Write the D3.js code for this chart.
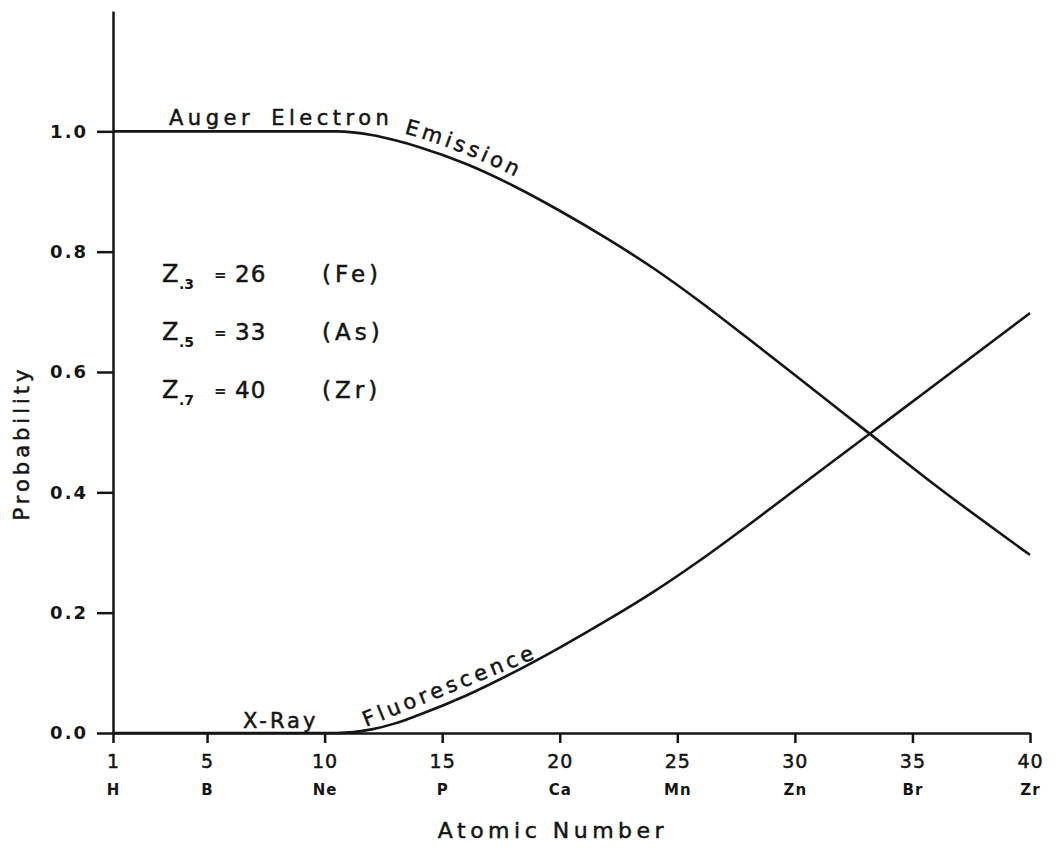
<!DOCTYPE html>
<html>
<head>
<meta charset="utf-8" />
<title>Auger Electron Emission vs X-Ray Fluorescence</title>
<script src="https://d3js.org/d3.v7.min.js"></script>
<style>
  body { margin: 0; background: #fff; }
  svg text { font-family: "DejaVu Sans", sans-serif; fill: #151515; }
  .lbl { stroke: #151515; stroke-width: 0.5px; }
</style>
</head>
<body>
<svg width="1058" height="852" id="svg1"></svg>
<script>
// values
var atomicNumber = [1, 5, 10, 10.5, 12, 13, 14, 16, 18, 20, 22, 24, 26, 28, 30, 33, 36, 40];
var augerProb    = [1, 1, 1, 1, 0.994, 0.985, 0.974, 0.946, 0.91, 0.868, 0.822, 0.772, 0.716, 0.656, 0.595, 0.503, 0.411, 0.296];
var xrayProb     = [0, 0, 0, 0, 0.006, 0.016, 0.03, 0.062, 0.1, 0.142, 0.187, 0.235, 0.288, 0.345, 0.404, 0.492, 0.58, 0.698];

var xTicks = [1, 5, 10, 15, 20, 25, 30, 35, 40];
var xElements = ["H", "B", "Ne", "P", "Ca", "Mn", "Zn", "Br", "Zr"];
var yTicks = [0, 0.2, 0.4, 0.6, 0.8, 1.0];

var legendSub = [".3", ".5", ".7"];
var legendZ = [26, 33, 40];
var legendEl = ["Fe", "As", "Zr"];

var svg = d3.select("#svg1");
var ink = "#151515";

var x = d3.scaleLinear().domain([1, 40]).range([113, 1030]);
var y = d3.scaleLinear().domain([0, 1.2]).range([733, 11]);

// axes
var yAxis = svg.append("g")
  .attr("transform", "translate(" + x(1) + ",0)")
  .call(d3.axisLeft(y).tickValues(yTicks).tickSize(16).tickSizeOuter(0).tickPadding(9)
        .tickFormat(d3.format(".1f")));
yAxis.selectAll("text").style("font-size", "18px").style("font-weight", "bold").attr("letter-spacing", 2);

var xAxis = svg.append("g")
  .attr("transform", "translate(0," + y(0) + ")")
  .call(d3.axisBottom(x).tickValues(xTicks).tickSize(10).tickSizeOuter(0).tickPadding(12));
xAxis.selectAll("text").style("font-size", "19px").attr("letter-spacing", 1).attr("class", "lbl");
xAxis.selectAll(".tick").append("text")
  .attr("y", 62).attr("fill", ink)
  .style("font-size", "15px").style("font-weight", "bold").attr("letter-spacing", 1)
  .text(function(d, i) { return xElements[i]; });

svg.selectAll(".domain, .tick line").attr("stroke", ink).attr("stroke-width", 2.5);
svg.selectAll(".tick text").attr("fill", ink);

// axis titles
svg.append("text").attr("class", "lbl")
  .attr("x", 553).attr("y", 838).attr("text-anchor", "middle")
  .style("font-size", "22px").attr("letter-spacing", 4.5)
  .text("Atomic Number");
svg.append("text").attr("class", "lbl")
  .attr("transform", "translate(29,443) rotate(-90)").attr("text-anchor", "middle")
  .style("font-size", "21px").attr("letter-spacing", 4)
  .text("Probability");

// curves
var line = d3.line().curve(d3.curveMonotoneX);
var augerPts = atomicNumber.map(function(z, i) { return [x(z), y(augerProb[i])]; });
var xrayPts = atomicNumber.map(function(z, i) { return [x(z), y(xrayProb[i])]; });

svg.append("path").attr("id", "auger").attr("d", line(augerPts))
  .attr("fill", "none").attr("stroke", ink).attr("stroke-width", 2.6);
svg.append("path").attr("id", "xray").attr("d", line(xrayPts))
  .attr("fill", "none").attr("stroke", ink).attr("stroke-width", 2.6);

// where along a path a given x is reached
function offsetAt(id, px) {
  var node = document.getElementById(id);
  var total = node.getTotalLength();
  for (var l = 0; l < total; l += 0.5) {
    if (node.getPointAtLength(l).x >= px) return l;
  }
  return total;
}

// curve labels
svg.append("text").attr("class", "lbl")
  .attr("x", 169).attr("y", 125)
  .style("font-size", "21px").attr("letter-spacing", 4.5).attr("word-spacing", 6)
  .text("Auger Electron");
svg.append("text").attr("class", "lbl")
  .attr("dy", -9)
  .style("font-size", "21px").attr("letter-spacing", 3.5)
  .append("textPath").attr("href", "#auger")
  .attr("startOffset", offsetAt("auger", 401))
  .text("Emission");

svg.append("text").attr("class", "lbl")
  .attr("x", 243).attr("y", 728)
  .style("font-size", "21px").attr("letter-spacing", 3)
  .text("X-Ray");
svg.append("text").attr("class", "lbl")
  .attr("transform", "translate(366,727) rotate(-22)")
  .style("font-size", "21px").attr("letter-spacing", 4)
  .text("Fluorescence");

// Z values where the fluorescence yield reaches .3 / .5 / .7
var leg = svg.append("g").selectAll("g")
  .data(legendZ).enter().append("g")
  .attr("transform", function(d, i) { return "translate(162," + (282 + i * 58) + ")"; });
leg.append("text").attr("class", "lbl").style("font-size", "24px").text("Z");
leg.append("text").attr("x", 17).attr("y", 7).style("font-size", "14px").style("font-weight", "bold")
  .text(function(d, i) { return legendSub[i]; });
leg.append("text").attr("x", 52).attr("y", -2).style("font-size", "15px").style("font-weight", "bold")
  .text("=");
leg.append("text").attr("class", "lbl").attr("x", 73).style("font-size", "23px").attr("letter-spacing", 1)
  .text(function(d) { return d; });
leg.append("text").attr("class", "lbl").attr("x", 160).style("font-size", "23px").attr("letter-spacing", 4)
  .text(function(d, i) { return "(" + legendEl[i] + ")"; });
</script>
</body>
</html>
